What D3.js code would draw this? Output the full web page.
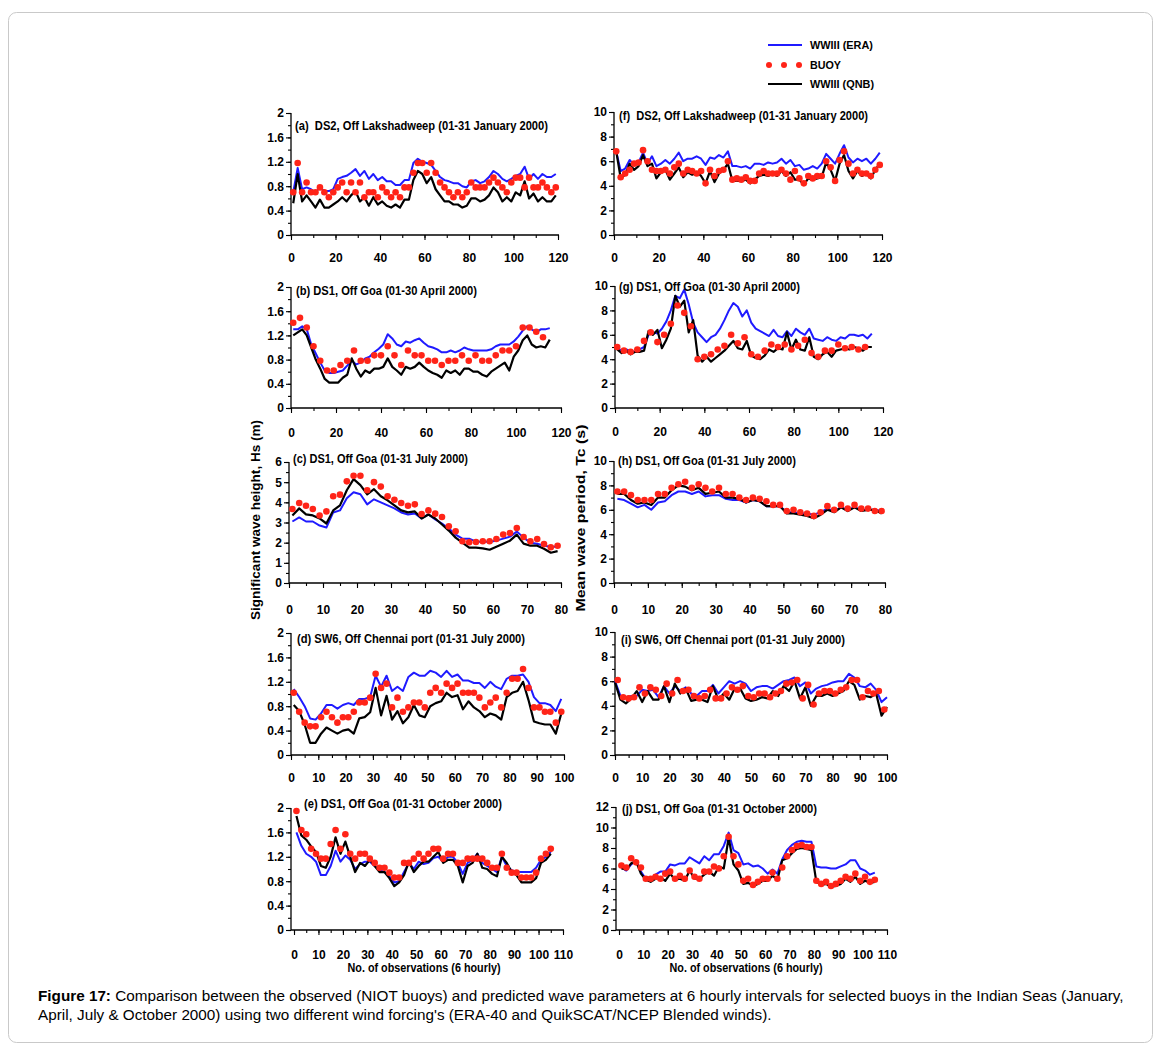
<!DOCTYPE html>
<html>
<head>
<meta charset="utf-8">
<script src="https://cdn.jsdelivr.net/npm/d3@7"></script>
<style>
body { margin: 0; background: #fff; }
svg text { font-family: "Liberation Sans", Arial, sans-serif; }
</style>
</head>
<body>
<div id="chart"></div>
<script>
// ---- data (lines every 2 obs, buoy every 2 or 3 obs) ----
// (a) DS2 Jan Hs
var aEra = [0.7,1.1,0.75,0.78,0.75,0.7,0.78,0.72,0.72,0.75, 0.92,0.95,0.97,1.02,1.08,0.97,1.05,0.92,1.0,0.9, 0.95,0.88,0.88,0.82,0.82,0.9,0.9,1.18,1.25,1.2, 1.18,1.15,1.05,0.95,0.9,0.88,0.85,0.85,0.8,0.78, 0.88,0.9,0.85,0.88,0.95,1.05,1.0,0.92,0.88,0.92, 0.97,1.0,1.12,0.92,1.0,0.92,1.0,0.95,0.95,1.0];
var aQnb = [0.52,1.0,0.55,0.65,0.55,0.45,0.58,0.45,0.45,0.5, 0.55,0.62,0.55,0.65,0.72,0.55,0.62,0.48,0.62,0.5, 0.55,0.48,0.45,0.5,0.45,0.58,0.58,0.9,1.05,1.0, 0.85,0.95,0.75,0.65,0.55,0.55,0.5,0.5,0.45,0.48, 0.6,0.6,0.55,0.58,0.65,0.78,0.7,0.55,0.62,0.55, 0.7,0.65,0.88,0.6,0.68,0.55,0.62,0.55,0.55,0.65];
var aBuoy = [0.7,1.18,0.7,0.86,0.7,0.7,0.78,0.7,0.62,0.7, 0.78,0.86,0.7,0.86,0.7,0.86,0.62,0.7,0.7,0.62, 0.78,0.7,0.62,0.7,0.62,0.78,0.78,1.02,1.18,1.18, 1.02,1.18,1.02,0.86,0.78,0.7,0.62,0.7,0.62,0.7, 0.86,0.78,0.78,0.78,0.86,0.94,0.86,0.78,0.7,0.86, 0.94,0.94,0.78,0.94,0.78,0.78,0.86,0.78,0.7,0.78];
// (f) DS2 Jan Tc
var fEra = [6.8,5.2,5.4,6.1,5.7,5.9,6.7,5.8,6.4,5.6, 5.8,6.1,5.8,6.2,6.7,6.0,6.2,6.2,6.4,6.2, 5.7,6.3,6.2,6.5,6.3,6.8,5.6,5.6,5.5,5.6, 5.4,5.8,5.8,5.7,5.9,5.8,5.9,6.2,5.8,6.1, 5.6,5.7,5.3,5.4,5.6,5.4,5.8,6.6,6.2,5.8, 6.6,7.3,6.3,5.9,6.2,6.0,6.2,5.8,6.2,6.7];
var fQnb = [6.8,4.6,4.9,5.8,5.3,5.6,6.5,5.6,5.8,4.6, 5.1,5.3,4.5,5.0,5.5,4.7,5.1,4.9,5.1,4.8, 4.2,5.2,4.3,5.0,5.3,5.8,4.4,4.4,4.4,4.5, 4.2,4.5,4.8,4.9,4.8,5.0,4.8,5.2,4.8,5.1, 4.5,4.5,4.1,4.6,4.5,4.6,4.7,5.9,5.3,4.4, 5.8,6.5,5.2,4.6,5.2,4.8,5.0,4.6,5.3,5.8];
var fBuoy = [6.8,4.7,5.0,5.3,5.8,5.9,6.9,6.0,5.3,5.2, 5.2,5.3,5.0,5.5,5.8,5.0,5.3,5.2,5.0,5.2, 4.2,5.3,4.8,5.2,5.3,6.0,4.5,4.6,4.5,4.7, 4.4,4.4,5.0,5.2,5.0,5.0,5.0,5.3,5.0,4.5, 5.2,4.6,4.2,4.8,4.6,4.8,4.8,6.0,5.5,4.4, 6.1,6.8,5.8,5.0,5.3,5.0,5.0,4.8,5.3,5.7];
// (b) DS1 Apr Hs
var bEra = [1.3,1.3,1.35,1.3,1.05,0.9,0.75,0.62,0.58,0.58, 0.6,0.62,0.7,0.78,0.72,0.75,0.82,0.85,0.92,0.98, 1.05,1.22,1.15,1.05,1.02,1.1,1.08,1.12,1.15,1.08, 1.02,1.0,0.97,0.92,0.92,0.95,0.92,0.95,1.0,0.97, 0.95,0.95,0.95,0.95,0.97,1.02,1.05,1.05,1.05,1.1, 1.18,1.28,1.35,1.3,1.25,1.3,1.3,1.32];
var bQnb = [1.2,1.25,1.3,1.2,1.0,0.8,0.65,0.48,0.42,0.42, 0.42,0.5,0.55,0.82,0.65,0.52,0.62,0.58,0.65,0.65, 0.68,0.82,0.68,0.62,0.55,0.68,0.65,0.68,0.75,0.68, 0.62,0.58,0.55,0.5,0.62,0.58,0.62,0.55,0.65,0.65, 0.6,0.6,0.55,0.52,0.6,0.65,0.7,0.75,0.62,0.85, 0.95,1.12,1.2,1.05,1.0,1.02,1.0,1.13];
var bBuoy = [1.41,1.49,1.33,1.02,0.78,0.62,0.62,0.71,0.78,0.95, 0.78,0.78,0.87,0.87,1.02,0.87,0.71,0.95,0.87,0.87, 0.78,0.78,0.71,0.78,0.78,0.87,0.78,0.87,0.78,0.78, 0.87,0.95,0.95,1.02,1.33,1.33,1.26,1.17];
// (g) DS1 Apr Tc
var gEra = [4.9,4.7,4.8,4.7,4.6,4.8,5.0,6.0,6.2,6.1, 6.5,7.1,8.0,9.2,9.0,9.7,8.5,7.0,6.2,5.8, 5.4,5.8,6.0,6.5,7.2,8.0,8.6,8.3,7.5,8.0, 7.0,6.5,6.3,6.1,5.9,6.4,5.9,5.8,6.3,5.9, 6.5,6.2,6.0,6.5,5.7,5.6,5.5,5.8,5.6,5.5, 5.8,5.7,6.0,6.0,5.9,6.0,5.7,6.1];
var gQnb = [4.8,4.5,4.7,4.4,4.6,4.6,4.7,6.3,6.0,6.4, 4.9,5.6,6.5,9.2,8.3,8.8,6.2,7.2,4.3,3.8, 4.2,3.8,4.1,4.4,4.7,5.1,5.5,4.9,4.8,5.5, 4.3,4.1,4.0,4.3,4.8,4.6,4.9,4.8,6.2,4.8, 5.6,4.8,4.7,5.8,4.2,4.0,4.4,4.6,4.2,4.7, 4.8,4.9,4.8,5.0,4.9,4.7,5.0,5.0];
var gBuoy = [5.0,4.7,4.6,4.8,5.5,6.2,5.4,6.0,6.9,8.4, 7.8,6.7,4.0,4.2,4.4,4.8,5.1,6.0,5.3,5.8, 4.4,4.2,4.7,5.2,5.0,5.2,4.8,5.1,5.6,4.5, 4.2,4.7,4.7,5.2,4.9,5.0,4.8,5.0];
// (c) DS1 Jul Hs
var cEra = [3.05,3.25,3.05,3.05,2.85,2.75,3.5,3.6,4.2,4.5, 4.4,3.9,4.15,4.0,3.85,3.7,3.5,3.4,3.45,3.2, 3.4,3.15,2.95,2.7,2.4,2.2,2.2,2.05,2.05,2.05, 2.1,2.2,2.3,2.55,2.25,2.0,1.95,1.85,1.8,1.8];
var cQnb = [3.35,3.7,3.4,3.35,3.2,2.95,3.6,3.85,4.6,5.15, 4.85,4.4,4.65,4.3,4.1,3.85,3.6,3.5,3.55,3.2, 3.4,3.2,2.9,2.6,2.25,2.0,1.75,1.75,1.72,1.65, 1.8,1.95,2.1,2.4,1.95,1.85,1.85,1.7,1.5,1.58];
var cBuoy = [3.67,3.97,3.83,3.67,3.35,3.55,4.3,4.38,5.04,5.32, 5.32,4.6,5.0,4.78,4.3,4.13,3.97,3.83,3.9,3.42, 3.6,3.44,3.27,2.81,2.56,2.07,2.02,2.03,2.07,2.07, 2.18,2.4,2.48,2.73,2.28,2.07,2.18,1.93,1.77,1.85];
// (h) DS1 Jul Tc
var hEra = [6.9,6.8,6.5,6.2,6.4,6.0,6.6,6.7,7.2,7.5, 7.5,7.3,7.5,7.1,7.2,7.2,6.9,6.8,6.8,6.6, 6.8,6.7,6.3,6.3,6.3,5.8,5.8,5.7,5.7,5.6, 5.8,6.1,5.9,6.2,6.0,6.2,6.0,6.0,6.0,5.9];
var hQnb = [7.3,7.3,6.8,6.5,6.6,6.4,7.0,7.0,7.6,8.0, 7.9,7.6,7.8,7.3,7.4,7.5,7.0,7.0,6.9,6.6, 6.8,6.7,6.3,6.3,6.3,5.7,5.7,5.6,5.5,5.3, 5.6,6.0,5.8,6.2,5.9,6.2,5.9,6.0,6.0,5.7];
var hBuoy = [7.5,7.5,7.2,6.8,6.8,6.8,7.3,7.3,7.8,8.1, 8.3,7.8,8.1,7.8,7.5,7.8,7.3,7.3,7.0,6.8, 7.0,6.9,6.7,6.4,6.4,5.9,6.0,5.8,5.7,5.5, 5.8,6.3,6.0,6.4,6.1,6.4,6.1,6.1,5.9,5.9];
// (d) SW6 Jul Hs
var dEra = [1.08,0.95,0.8,0.6,0.58,0.68,0.82,0.82,0.76,0.82, 0.85,0.82,0.92,0.92,0.95,1.3,1.12,1.3,1.05,1.12, 1.05,1.28,1.35,1.3,1.3,1.38,1.35,1.28,1.38,1.28, 1.32,1.22,1.22,1.18,1.18,1.1,1.2,1.12,1.08,1.25, 1.3,1.3,1.32,1.2,0.95,0.85,0.85,0.82,0.72,0.92];
var dQnb = [0.82,0.72,0.5,0.2,0.2,0.35,0.45,0.4,0.35,0.4, 0.42,0.35,0.6,0.62,0.7,1.1,0.65,0.97,0.58,0.72, 0.52,0.62,0.82,0.65,0.62,0.8,0.85,0.88,1.02,0.95, 0.98,0.75,0.88,0.78,0.72,0.62,0.68,0.65,0.58,0.95, 1.02,1.05,1.2,0.9,0.55,0.52,0.5,0.5,0.35,0.68];
var dBuoy = [1.02,0.71,0.53,0.47,0.47,0.62,0.71,0.62,0.53,0.62, 0.62,0.71,0.86,0.86,0.94,1.33,1.1,1.17,0.78,0.94, 0.71,0.78,0.86,0.86,0.78,1.02,1.1,1.02,1.17,1.1, 1.17,1.02,1.02,1.02,0.94,0.78,0.86,0.94,0.78,1.02, 1.25,1.25,1.41,1.1,0.78,0.78,0.71,0.71,0.53,0.71];
// (i) SW6 Jul Tc
var iEra = [6.0,4.8,4.7,4.8,4.8,5.3,5.2,5.3,4.7,5.6, 5.0,5.6,5.2,5.5,5.0,4.8,5.2,5.2,5.7,5.0, 5.5,6.0,5.8,6.0,5.8,5.2,5.5,5.6,5.6,5.4, 5.7,6.0,6.1,6.3,5.6,5.9,5.0,5.4,5.6,5.7, 5.9,6.0,6.0,6.6,6.3,5.6,5.5,5.8,5.3,4.3,4.7];
var iQnb = [5.9,4.5,4.2,4.6,5.2,4.3,5.2,4.5,4.5,5.6, 4.3,5.8,5.0,5.4,4.4,4.5,4.5,4.3,5.6,4.5, 5.0,4.5,5.4,5.4,4.6,4.4,4.5,4.7,4.6,5.2, 4.8,5.6,5.2,6.0,4.6,5.5,4.0,4.8,4.8,5.0, 4.8,5.0,5.2,6.0,5.7,4.5,4.8,4.7,5.0,3.2,3.9];
var iBuoy = [6.1,4.7,4.6,4.7,5.5,5.0,5.5,5.3,4.8,5.8, 5.0,6.1,5.2,5.3,4.8,4.6,4.8,5.3,4.6,4.6, 5.0,5.5,5.3,5.6,4.8,4.7,5.0,5.0,4.7,5.0, 5.2,5.8,5.9,6.1,4.6,5.7,4.1,5.0,5.2,5.2, 5.0,5.3,5.5,6.1,6.1,4.7,5.2,5.0,5.2,3.7];
// (e) DS1 Oct Hs
var eEra = [1.6,1.38,1.25,1.2,1.12,0.9,0.9,1.05,1.3,1.12, 1.22,1.15,1.0,1.08,1.12,1.12,1.05,0.98,0.95,0.88, 0.78,0.8,0.95,1.1,1.0,1.12,1.08,1.1,1.18,1.2, 1.12,1.2,1.2,1.1,0.92,1.1,1.15,1.25,1.1,1.05, 1.0,0.95,1.2,1.05,0.98,0.95,0.95,0.95,0.95,1.02, 1.15,1.2,1.28];
var eQnb = [1.87,1.55,1.48,1.37,1.28,1.05,1.02,1.2,1.52,1.25, 1.45,1.2,0.95,1.1,1.05,1.15,1.05,0.95,0.95,0.85, 0.72,0.78,0.9,1.12,0.95,1.05,1.12,1.12,1.2,1.28, 1.1,1.15,1.15,1.05,0.78,1.05,1.1,1.25,1.02,1.0, 0.92,0.88,1.2,1.1,0.95,0.9,0.78,0.78,0.78,0.85, 1.1,1.15,1.25];
var eBuoy = [1.95,1.64,1.57,1.33,1.25,1.17,1.17,1.41,1.64,1.33, 1.57,1.25,1.17,1.25,1.25,1.17,1.1,1.02,1.02,0.94, 0.86,0.86,1.1,1.1,1.17,1.25,1.17,1.25,1.33,1.33, 1.17,1.25,1.25,1.1,1.1,1.17,1.17,1.17,1.17,1.1, 1.02,1.02,1.25,1.02,0.94,0.94,0.86,0.86,0.86,0.94, 1.17,1.25,1.33];
// (j) DS1 Oct Tc
var jEra = [6.1,5.8,6.4,6.8,5.7,5.0,5.0,5.4,5.7,5.7, 6.4,6.3,6.5,6.5,7.1,6.8,6.5,7.2,6.8,7.4, 7.4,8.2,9.5,7.8,7.5,6.4,6.5,6.2,6.3,6.0, 5.5,5.9,5.5,6.9,7.8,8.3,8.6,8.7,8.6,8.6, 6.2,6.1,6.1,6.0,6.0,6.2,6.4,6.8,6.8,6.0, 5.8,5.4,5.6];
var jQnb = [6.0,5.9,6.5,6.7,5.5,4.9,4.7,5.0,5.1,4.8, 5.5,4.9,5.0,4.8,5.8,5.0,5.0,5.4,5.7,5.3, 6.2,6.0,9.0,6.4,5.8,4.5,4.6,4.3,4.5,4.8, 4.8,5.3,4.9,6.8,7.0,7.5,7.9,8.0,7.9,7.8, 4.7,4.4,4.5,4.2,4.3,4.5,5.0,4.7,5.2,4.5, 4.8,4.6,4.7];
var jBuoy = [6.3,6.1,7.0,6.6,6.1,5.0,5.0,5.2,5.0,5.5, 5.7,5.0,5.3,5.0,5.8,5.2,5.0,5.7,5.7,6.2, 6.0,7.2,9.1,7.2,6.4,4.8,5.0,4.4,4.7,5.0, 5.0,5.6,5.0,6.1,7.2,7.8,8.2,8.3,8.1,8.1, 4.8,4.5,4.7,4.3,4.5,4.8,5.2,5.0,5.5,4.8, 5.2,4.7,4.9];

var seriesNames = ["WWIII (ERA)", "BUOY", "WWIII (QNB)"];
var blue = "#1f1aff", red = "#ff2418", black = "#000";

var svg = d3.select("#chart").append("svg")
  .attr("width", 1161)
  .attr("height", 1055);

// outer frame
svg.append("rect")
  .attr("x", 8.5).attr("y", 12.5)
  .attr("width", 1144).attr("height", 1030)
  .attr("rx", 8)
  .attr("fill", "#fff")
  .attr("stroke", "#c9c9c9");

// panel layout
var panels = [
  {title: "(a)  DS2, Off Lakshadweep (01-31 January 2000)", era: aEra, qnb: aQnb, buoy: aBuoy, ls: 1, lstep: 2, bs: 1, bstep: 2,
   xMax: 120, xMaj: 20, xMin: 10, yMax: 2, yMaj: 0.4, yMin: 0.2, left: 291, right: 558, top: 113, bottom: 235, axX: 291, xPad: 13, tx: 295, ty: 129.5, tw: 253},
  {title: "(f)  DS2, Off Lakshadweep (01-31 January 2000)", era: fEra, qnb: fQnb, buoy: fBuoy, ls: 1, lstep: 2, bs: 1, bstep: 2,
   xMax: 120, xMaj: 20, xMin: 10, yMax: 10, yMaj: 2, yMin: 1, left: 614, right: 882, top: 112, bottom: 235, axX: 614, xPad: 13, tx: 619, ty: 120, tw: 249},
  {title: "(b) DS1, Off Goa (01-30 April 2000)", era: bEra, qnb: bQnb, buoy: bBuoy, ls: 1, lstep: 2, bs: 1, bstep: 3,
   xMax: 120, xMaj: 20, xMin: 10, yMax: 2, yMaj: 0.4, yMin: 0.2, left: 291, right: 561, top: 287, bottom: 408, axX: 291, xPad: 15.5, tx: 296, ty: 295, tw: 181},
  {title: "(g) DS1, Off Goa (01-30 April 2000)", era: gEra, qnb: gQnb, buoy: gBuoy, ls: 1, lstep: 2, bs: 1, bstep: 3,
   xMax: 120, xMaj: 20, xMin: 10, yMax: 10, yMaj: 2, yMin: 1, left: 615, right: 883, top: 286, bottom: 408, axX: 615, xPad: 14.5, tx: 619, ty: 291, tw: 181},
  {title: "(c) DS1, Off Goa (01-31 July 2000)", era: cEra, qnb: cQnb, buoy: cBuoy, ls: 1, lstep: 2, bs: 1, bstep: 2,
   xMax: 80, xMaj: 10, xMin: 5, yMax: 6, yMaj: 1, yMin: 0.5, left: 289, right: 561, top: 462, bottom: 583, axX: 289, xPad: 17, tx: 293, ty: 463, tw: 175},
  {title: "(h) DS1, Off Goa (01-31 July 2000)", era: hEra, qnb: hQnb, buoy: hBuoy, ls: 1, lstep: 2, bs: 1, bstep: 2,
   xMax: 80, xMaj: 10, xMin: 5, yMax: 10, yMaj: 2, yMin: 1, left: 614, right: 885, top: 461, bottom: 583, axX: 614, xPad: 17.5, tx: 618, ty: 465, tw: 178},
  {title: "(d) SW6, Off Chennai port (01-31 July 2000)", era: dEra, qnb: dQnb, buoy: dBuoy, ls: 1, lstep: 2, bs: 1, bstep: 2,
   xMax: 100, xMaj: 10, xMin: 5, yMax: 2, yMaj: 0.4, yMin: 0.2, left: 291, right: 564, top: 633, bottom: 755, axX: 291, xPad: 13, tx: 297, ty: 643, tw: 228},
  {title: "(i) SW6, Off Chennai port (01-31 July 2000)", era: iEra, qnb: iQnb, buoy: iBuoy, ls: 0, lstep: 2, bs: 1, bstep: 2,
   xMax: 100, xMaj: 10, xMin: 5, yMax: 10, yMaj: 2, yMin: 1, left: 615, right: 887, top: 632, bottom: 755, axX: 615, xPad: 13, tx: 621, ty: 644, tw: 224},
  {title: "(e) DS1, Off Goa (01-31 October 2000)", era: eEra, qnb: eQnb, buoy: eBuoy, ls: 1, lstep: 2, bs: 1, bstep: 2,
   xMax: 110, xMaj: 10, xMin: 5, yMax: 2, yMaj: 0.4, yMin: 0.2, left: 294, right: 563, top: 808, bottom: 930, axX: 291, xPad: 15.5, tx: 304, ty: 807.5, tw: 198},
  {title: "(j) DS1, Off Goa (01-31 October 2000)", era: jEra, qnb: jQnb, buoy: jBuoy, ls: 1, lstep: 2, bs: 1, bstep: 2,
   xMax: 110, xMaj: 10, xMin: 5, yMax: 12, yMaj: 2, yMin: 1, left: 619, right: 887, top: 807, bottom: 930, axX: 616, xPad: 15.5, tx: 622, ty: 813, tw: 195}
];

function fmt(d) { return String(+d.toFixed(1)); }
function range(a, b, s) { var r = []; for (var v = a; v <= b + 1e-9; v += s) r.push(+v.toFixed(3)); return r; }

panels.forEach(function(p) {
  var x = d3.scaleLinear().domain([0, p.xMax]).range([p.left, p.right]);
  var y = d3.scaleLinear().domain([0, p.yMax]).range([p.bottom, p.top]);
  var g = svg.append("g");

  // x axis: minor then major
  g.append("g")
    .attr("transform", `translate(0,${p.bottom})`)
    .call(d3.axisBottom(x).tickValues(range(0, p.xMax, p.xMin)).tickSize(3).tickSizeOuter(0).tickFormat(""))
    .call(s => s.select(".domain").remove());
  var xa = g.append("g")
    .attr("transform", `translate(0,${p.bottom})`)
    .call(d3.axisBottom(x).tickValues(range(0, p.xMax, p.xMaj)).tickSize(5).tickSizeOuter(0).tickPadding(p.xPad).tickFormat(fmt));
  xa.select(".domain").remove();
  g.append("line")
    .attr("x1", p.axX).attr("x2", p.right + 1)
    .attr("y1", p.bottom).attr("y2", p.bottom)
    .attr("stroke", "#000").attr("stroke-width", 1.3);

  // y axis
  var yg = g.append("g").attr("transform", `translate(${p.axX},0)`);
  yg.append("g")
    .call(d3.axisLeft(y).tickValues(range(0, p.yMax, p.yMin)).tickSize(3).tickSizeOuter(0).tickFormat(""))
    .call(s => s.select(".domain").remove());
  yg.append("g")
    .call(d3.axisLeft(y).tickValues(range(0, p.yMax, p.yMaj)).tickSize(5).tickSizeOuter(0).tickPadding(2).tickFormat(fmt))
    .call(s => s.select(".domain").remove());
  yg.append("line")
    .attr("y1", p.bottom).attr("y2", p.top)
    .attr("stroke", "#000").attr("stroke-width", 1.3);

  g.selectAll(".tick line").attr("stroke", "#000").attr("stroke-width", 1.1);
  g.selectAll(".tick text")
    .attr("fill", "#000")
    .attr("font-size", 12)
    .attr("font-weight", "bold")
    .attr("font-family", "Liberation Sans, Arial, sans-serif");

  // series
  var line = d3.line()
    .x((d, i) => x(p.ls + i * p.lstep))
    .y(d => y(d));

  g.append("path").datum(p.era)
    .attr("d", line)
    .attr("fill", "none").attr("stroke", blue)
    .attr("stroke-width", 2).attr("stroke-linejoin", "round");

  g.append("path").datum(p.qnb)
    .attr("d", line)
    .attr("fill", "none").attr("stroke", black)
    .attr("stroke-width", 2.2).attr("stroke-linejoin", "round");

  g.selectAll("circle")
    .data(p.buoy)
    .enter()
    .append("circle")
    .attr("cx", (d, i) => x(p.bs + i * p.bstep))
    .attr("cy", d => y(d))
    .attr("r", 3.3)
    .attr("fill", red);

  // panel title
  g.append("text")
    .attr("x", p.tx).attr("y", p.ty)
    .attr("font-size", 12.5).attr("font-weight", "bold")
    .attr("textLength", p.tw).attr("lengthAdjust", "spacingAndGlyphs")
    .style("white-space", "pre")
    .text(p.title);
});

// axis titles
svg.append("text")
  .attr("transform", "translate(260,520) rotate(-90)")
  .attr("text-anchor", "middle")
  .attr("font-size", 12.5).attr("font-weight", "bold")
  .attr("textLength", 200).attr("lengthAdjust", "spacingAndGlyphs")
  .text("Significant wave height, Hs (m)");

svg.append("text")
  .attr("transform", "translate(584.5,518) rotate(-90)")
  .attr("text-anchor", "middle")
  .attr("font-size", 13.5).attr("font-weight", "bold")
  .attr("textLength", 187).attr("lengthAdjust", "spacingAndGlyphs")
  .text("Mean wave period, Tc (s)");

[424, 746].forEach(function(cx) {
  svg.append("text")
    .attr("x", cx).attr("y", 972)
    .attr("text-anchor", "middle")
    .attr("font-size", 12.5).attr("font-weight", "bold")
    .attr("textLength", 153).attr("lengthAdjust", "spacingAndGlyphs")
    .text("No. of observations (6 hourly)");
});

// legend
var leg = svg.append("g");
leg.append("line").attr("x1", 768).attr("x2", 802).attr("y1", 45).attr("y2", 45)
  .attr("stroke", blue).attr("stroke-width", 2.2);
leg.selectAll("circle.lg").data([769, 784, 799]).enter().append("circle")
  .attr("cx", d => d).attr("cy", 65).attr("r", 3).attr("fill", red);
leg.append("line").attr("x1", 768).attr("x2", 802).attr("y1", 84).attr("y2", 84)
  .attr("stroke", black).attr("stroke-width", 2.2);
var legW = [63, 31, 64];
seriesNames.forEach(function(n, i) {
  leg.append("text")
    .attr("x", 810).attr("y", 49 + i * 19.5)
    .attr("font-size", 11.5).attr("font-weight", "bold")
    .attr("textLength", legW[i]).attr("lengthAdjust", "spacingAndGlyphs")
    .text(n);
});

// caption
var cap1 = svg.append("text").attr("x", 38).attr("y", 1001).attr("font-size", 14);
cap1.append("tspan").attr("font-weight", "bold").text("Figure 17:");
cap1.append("tspan").text(" Comparison between the observed (NIOT buoys) and predicted wave parameters at 6 hourly intervals for selected buoys in the Indian Seas (January,");
var cap2 = svg.append("text").attr("x", 38).attr("y", 1020).attr("font-size", 14)
  .text("April, July & October 2000) using two different wind forcing's (ERA-40 and QuikSCAT/NCEP Blended winds).");
var w1 = cap1.node().getComputedTextLength();
var fs = 14 * 1087 / w1;
cap1.attr("font-size", fs);
cap2.attr("font-size", fs);
</script>
</body>
</html>
